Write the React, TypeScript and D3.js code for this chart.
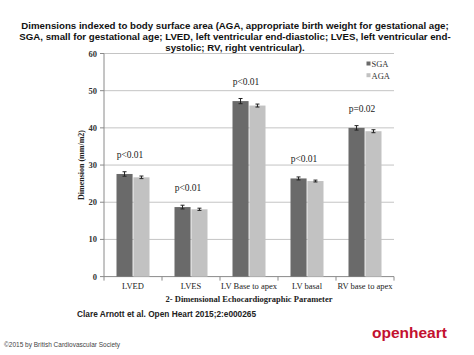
import React from "react";
import * as d3 from "d3";

const categories = ["LVED", "LVES", "LV Base to apex", "LV basal", "RV base to apex"];
const seriesNames = ["SGA", "AGA"];
const sgaValues = [27.6, 18.7, 47.2, 26.4, 40.0];
const agaValues = [26.7, 18.1, 46.0, 25.7, 39.1];
const sgaErrors = [0.6, 0.5, 0.7, 0.4, 0.6];
const agaErrors = [0.35, 0.3, 0.4, 0.25, 0.4];
const pLabels = ["p<0.01", "p<0.01", "p<0.01", "p<0.01", "p=0.02"];
const yTicks = [0, 10, 20, 30, 40, 50, 60];
const colors = ["#6a6a6a", "#c2c2c2"];

const titleLines = [
  "Dimensions indexed to body surface area (AGA, appropriate birth weight for gestational age;",
  "SGA, small for gestational age; LVED, left ventricular end-diastolic; LVES, left ventricular end-",
  "systolic; RV, right ventricular).",
];

export default function App() {
  const W = 474, H = 355;
  const left = 104, right = 394, top = 53.5, bottom = 276.6;
  const y = d3.scaleLinear().domain([0, 60]).range([bottom, top]);
  const x = d3.scaleBand().domain(categories).range([left, right]).padding(0);
  const groupW = 33;
  const x1 = d3.scaleBand().domain(seriesNames).range([0, groupW]).paddingInner(0.05);
  const series = [sgaValues, agaValues];
  const errs = [sgaErrors, agaErrors];
  const serif = "'Liberation Serif', 'DejaVu Serif', serif";
  const sans = "'Liberation Sans', Arial, sans-serif";
  const boundaries = d3.range(categories.length + 1).map((i) => left + i * x.bandwidth());

  return (
    <svg width={W} height={H} style={{ position: "absolute", left: 0, top: 0, background: "#fff" }}>
      <rect x={0} y={0} width={W} height={H} fill="#fff" />
      {titleLines.map((t, i) => (
        <text key={i} x={235} y={28.5 + i * 11} textAnchor="middle" fontFamily={sans} fontWeight="bold" fontSize={9.7} fill="#111">
          {t}
        </text>
      ))}
      {yTicks.map((t) => (
        <g key={t}>
          <line x1={left} x2={right} y1={y(t)} y2={y(t)} stroke={t === 0 ? "#8a8a8a" : "#c4c4c4"} strokeWidth={1} />
          <line x1={left - 4} x2={left} y1={y(t)} y2={y(t)} stroke="#8a8a8a" strokeWidth={1} />
          <text x={97} y={y(t) + 3} textAnchor="end" fontFamily={serif} fontWeight="bold" fontSize={8.5} fill="#333">
            {t}
          </text>
        </g>
      ))}
      <line x1={left} x2={left} y1={top} y2={bottom} stroke="#8a8a8a" strokeWidth={1} />
      {boundaries.map((b, i) => (
        <line key={i} x1={b} x2={b} y1={bottom} y2={bottom + 4} stroke="#8a8a8a" strokeWidth={1} />
      ))}
      {categories.map((c, ci) => {
        const gx = (x(c) as number) + (x.bandwidth() - groupW) / 2;
        return (
          <g key={c}>
            {seriesNames.map((s, si) => {
              const v = series[si][ci];
              const e = errs[si][ci];
              const bx = gx + (x1(s) as number);
              const bw = x1.bandwidth();
              const cx = bx + bw / 2;
              return (
                <g key={s}>
                  <rect x={bx} y={y(v)} width={bw} height={bottom - y(v)} fill={colors[si]} />
                  <line x1={cx} x2={cx} y1={y(v + e)} y2={y(v - e)} stroke="#222" strokeWidth={1} />
                  <line x1={cx - 2} x2={cx + 2} y1={y(v + e)} y2={y(v + e)} stroke="#222" strokeWidth={1} />
                  <line x1={cx - 2} x2={cx + 2} y1={y(v - e)} y2={y(v - e)} stroke="#222" strokeWidth={1} />
                </g>
              );
            })}
            <text x={gx + groupW / 2 - 3} y={y(sgaValues[ci]) - 16} textAnchor="middle" fontFamily={serif} fontSize={9.5} fill="#222">
              {pLabels[ci]}
            </text>
            <text x={(x(c) as number) + x.bandwidth() / 2} y={289} textAnchor="middle" fontFamily={serif} fontSize={8.5} fill="#222">
              {c}
            </text>
          </g>
        );
      })}
      {seriesNames.map((s, i) => (
        <g key={s}>
          <rect x={366.5} y={61.5 + i * 11.7} width={4} height={4} fill={colors[i]} />
          <text x={371.5} y={66.8 + i * 11.7} fontFamily={serif} fontSize={8.5} fill="#333">
            {s}
          </text>
        </g>
      ))}
      <text transform={`translate(84,165) rotate(-90)`} textAnchor="middle" fontFamily={serif} fontWeight="bold" fontSize={8} fill="#222">
        Dimension (mm/m2)
      </text>
      <text x={249} y={302} textAnchor="middle" fontFamily={serif} fontWeight="bold" fontSize={8.5} fill="#222">
        2- Dimensional Echocardiographic Parameter
      </text>
      <text x={77} y={316.5} fontFamily={sans} fontWeight="bold" fontSize={8.3} fill="#222">
        Clare Arnott et al. Open Heart 2015;2:e000265
      </text>
      <text x={4} y={346.5} fontFamily={sans} fontSize={6.5} fill="#444">
        ©2015 by British Cardiovascular Society
      </text>
      <text x={372} y={338} fontFamily={sans} fontWeight={600} fontSize={15.5} fill="#c3112f">
        openheart
      </text>
    </svg>
  );
}
